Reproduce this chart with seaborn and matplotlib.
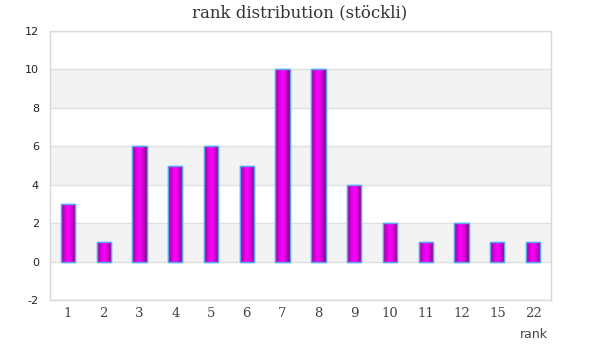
import numpy as np
import pandas as pd
import seaborn as sns
import matplotlib.pyplot as plt
from matplotlib.colors import LinearSegmentedColormap

ranks = ["1", "2", "3", "4", "5", "6", "7", "8", "9", "10", "11", "12", "15", "22"]
counts = [3, 1, 6, 5, 6, 5, 10, 10, 4, 2, 1, 2, 1, 1]

df = pd.DataFrame({"rank": ranks, "count": counts})

sns.set_style("white")
plt.rcParams["axes.unicode_minus"] = False
fig = plt.figure(figsize=(6, 3.6), dpi=100)
ax = fig.add_axes([50 / 600, 1 - 300 / 360, 501 / 600, 269 / 360])

sns.barplot(data=df, x="rank", y="count", ax=ax, width=0.4,
            color="#e000e0", edgecolor="#5aa8f0", linewidth=1.0, zorder=3)

# cylinder-style horizontal gradient for every bar
grad = LinearSegmentedColormap.from_list(
    "bar", ["#8c008c", "#d800d8", "#ff00ff", "#cc00cc", "#770077"])
g = np.linspace(0, 1, 64).reshape(1, -1)
for p in ax.patches:
    x0, y0 = p.get_x(), p.get_y()
    w, h = p.get_width(), p.get_height()
    im = ax.imshow(g, cmap=grad, aspect="auto", extent=(x0, x0 + w, y0, y0 + h),
                   zorder=3.5, interpolation="bicubic")
    im.set_clip_path(p)
    ax.add_patch(plt.Rectangle((x0, y0), w, h, fill=False, edgecolor="#5aa8f0",
                               linewidth=1.0, zorder=4))

ax.set_xlim(-0.5, len(ranks) - 0.5)
ax.set_ylim(-2, 12)
ax.set_yticks(range(-2, 13, 2))

# alternating bands
for lo in (0, 4, 8):
    ax.axhspan(lo, lo + 2, color="#f3f3f3", zorder=0, lw=0)
for yv in range(-2, 13, 2):
    ax.axhline(yv, color="#e0e0e0", lw=1, zorder=1)

for s in ax.spines.values():
    s.set_color("#d8d8d8")
    s.set_linewidth(1)
    s.set_visible(True)

ax.tick_params(axis="both", length=0)
ax.tick_params(axis="x", pad=5, labelsize=9.5, labelcolor="#444444")
ax.tick_params(axis="y", pad=8, labelsize=8, labelcolor="#222222")
for t in ax.get_xticklabels():
    t.set_fontfamily("DejaVu Serif")
ax.set_xlabel("")
ax.set_ylabel("")
fig.text(548 / 600, 1 - 335 / 360, "rank", ha="right", va="center",
         fontsize=9, color="#444444", family="DejaVu Sans")
fig.text(0.5, 1 - 13 / 360, "rank distribution (stöckli)", ha="center",
         va="center", fontsize=12, color="#333333", family="DejaVu Serif")

fig.savefig("out.png", dpi=100, facecolor="white")
